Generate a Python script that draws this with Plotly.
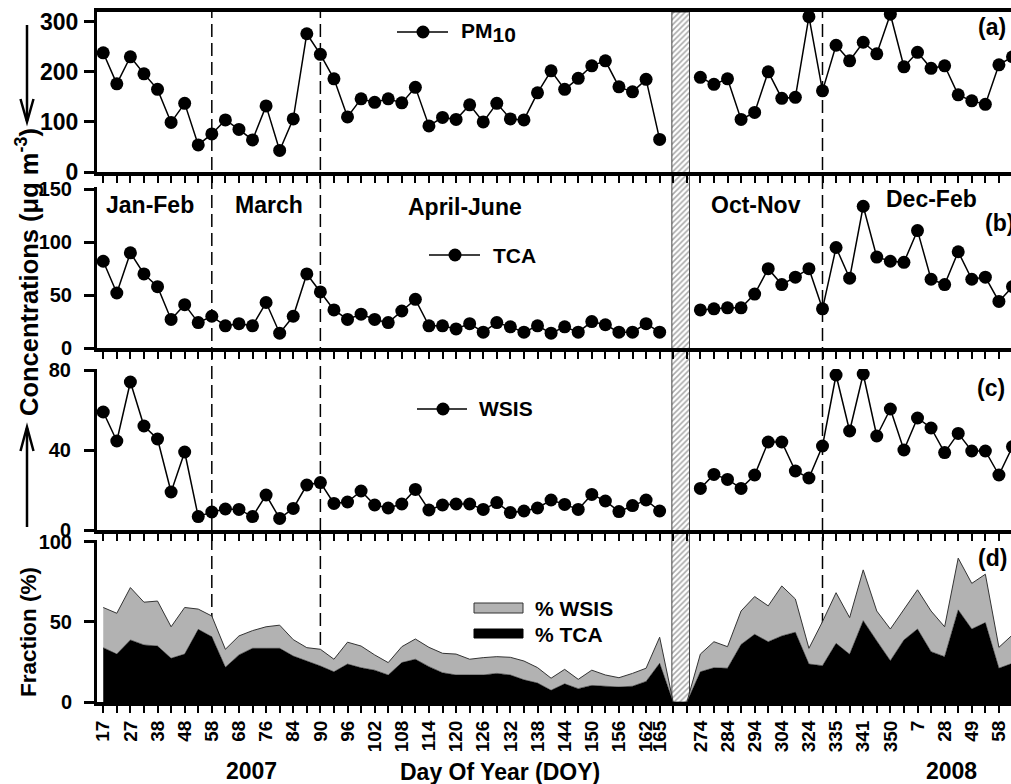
import plotly.graph_objects as go

W, H = 1011, 784

# ---------------- data ----------------
doy_labels = ["17", "", "27", "", "38", "", "48", "", "58", "", "68", "", "76", "", "84", "", "90", "",
              "96", "", "102", "", "108", "", "114", "", "120", "", "126", "", "132", "", "138", "",
              "144", "", "150", "", "156", "", "162", "165", "", "",
              "274", "", "284", "", "294", "", "304", "", "324", "", "335", "", "341", "", "350", "",
              "7", "", "28", "", "49", "", "58", ""]

pm10 = [238, 176, 230, 196, 165, 99, 137, 54, 76, 104, 85, 64, 132, 43, 106, 276, 235, 186,
        110, 146, 139, 146, 138, 169, 92, 109, 105, 134, 100, 137, 106, 104, 158, 202, 165, 187,
        212, 222, 170, 160, 185, 65,
        None, None,
        189, 175, 186, 105, 119, 200, 147, 149, 310, 162, 253, 222, 259, 236, 315, 210, 239, 207,
        212, 154, 142, 135, 214, 230]

tca = [82, 52, 90, 70, 58, 27, 41, 24, 30, 21, 23, 21, 43, 14, 30, 70, 53, 36,
       27, 32, 27, 24, 35, 46, 21, 21, 18, 23, 15, 24, 20, 15, 21, 14, 20, 15, 25, 22, 15, 15, 23, 15,
       None, None,
       36, 37, 38, 38, 51, 75, 60, 67, 75, 37, 95, 66, 134, 86, 82, 81, 111, 65, 60, 91, 65, 67, 44, 58]

wsis = [59, 44.5, 74, 52, 45.5, 19, 39, 6.7, 9, 10.5, 10.3, 6.7, 17.5, 5.8, 10.8, 22.5, 23.7, 13.3,
        14, 19.5, 12.5, 11, 13, 20.3, 10, 12.5, 13, 13, 10.3, 13.7, 8.7, 9.5, 11, 15, 12.8, 10.3,
        17.8, 14.5, 9.2, 12.2, 15, 9.5,
        None, None,
        20.8, 27.8, 25.3, 20.8, 27.5, 44, 44, 29.5, 26, 42, 77.5, 49.5, 78, 47, 60.5, 40, 56, 51,
        38.7, 48.3, 39.5, 39.5, 27.5, 41.7]

frac_tca = [34, 30, 38.8, 35.7, 35, 27.4, 30, 45.4, 40.8, 21.8, 29.5, 33.6, 33.6, 33.6, 28.8, 25.7, 22.6, 19,
            23.8, 21.5, 20, 17, 24.7, 26.8, 22.2, 18.4, 17, 17, 17, 18, 17, 14, 12, 7.5, 11.5, 8.5,
            10.5, 10, 9.5, 10, 13, 24.3,
            0, 0,
            19, 21.5, 21.2, 36, 42.3, 37.7, 41.3, 43.6, 23.8, 22.8, 36.7, 29.9, 50.8, 38.2, 25.9, 38.8,
            45.6, 31.5, 28.4, 57.5, 45.6, 49.6, 21.2, 24.3]

frac_total = [59, 55.4, 71.4, 62.3, 63, 47, 59, 58, 53.7, 33, 41.3, 44.6, 47, 48, 39, 34, 33, 26.8,
              37.4, 35, 29.5, 24.7, 34.6, 39.4, 34.2, 30.5, 30, 26.8, 27.8, 28.4, 28, 25.7, 21.6, 15,
              20.5, 14.3, 20, 17, 15.3, 18, 21.2, 40.5,
              0, 0,
              30, 37.7, 34.6, 56.8, 65.8, 60, 72.4, 64.3, 33.6, 50.2, 68.2, 52.7, 82.4, 56.8, 45.6, 58,
              70, 56.8, 47, 89.7, 74, 79.7, 34.2, 42]

season_breaks = [8, 16, 53]
season_names = ["Jan-Feb", "March", "April-June", "Oct-Nov", "Dec-Feb"]
panel_tags = ["(a)", "(b)", "(c)", "(d)"]

# ---------------- helpers ----------------
FONT = "Liberation Sans, Arial, sans-serif"
idx = list(range(len(pm10)))
gap = [i for i, v in enumerate(pm10) if v is None]


def px(x):
    return x / W


def py(y):
    return 1 - y / H


x_left = px(97)
xr = [-0.46, 66.89]

# data, y-range, y-ticks, bottom px, top px, tick font size, label standoff
panels = [
    (pm10, [0, 319.4], [0, 100, 200, 300], 172, 12, 23, 1),
    (tca, [0, 152.2], [0, 50, 100, 150], 348, 187, 20, 8),
    (wsis, [0, 80.5], [0, 40, 80], 530, 369, 20, 9),
    (None, [0, 101], [0, 50, 100], 702.3, 540, 20, 8),
]

fig = go.Figure()

# hatched gap band (subplot x/y, drawn first so the panels sit on top)
g0, g1 = min(gap) - 0.1, max(gap) + 0.2
fig.add_trace(go.Scatter(
    x=[g0, g1, g1, g0, g0], y=[0, 0, 1, 1, 0], xaxis="x", yaxis="y",
    mode="lines", fill="toself", fillcolor="white",
    fillpattern=dict(shape="/", fgcolor="#555555", bgcolor="white", size=4, solidity=0.4),
    line=dict(color="#444444", width=1), hoverinfo="skip", showlegend=False))

layout = dict(
    width=W, height=H, autosize=False,
    margin=dict(l=0, r=0, t=0, b=0, pad=0),
    paper_bgcolor="white", plot_bgcolor="rgba(0,0,0,0)",
    showlegend=False,
    font=dict(family=FONT, color="black"),
    xaxis=dict(domain=[x_left, 1], range=xr, visible=False, anchor="y", automargin=False),
    yaxis=dict(domain=[py(702.3), py(12)], range=[0, 1], visible=False, anchor="x", automargin=False),
)

for k, (data, yr, yt, bot, top, tfs, stand) in enumerate(panels):
    n = k + 2
    last = (k == 3)
    xa = dict(domain=[x_left, 1], range=xr, anchor=f"y{n}", showline=True, linewidth=3.5,
              linecolor="black", ticks="outside", ticklen=7, tickwidth=1.5, tickcolor="black",
              tickvals=idx, ticktext=doy_labels, showticklabels=last, showgrid=False,
              zeroline=False, mirror=(k == 0), fixedrange=True, automargin=False)
    if last:
        xa.update(tickangle=-90, tickfont=dict(size=19, family=FONT, weight="bold", color="black"))
    layout[f"xaxis{n}"] = xa
    layout[f"yaxis{n}"] = dict(domain=[py(bot), py(top)], range=yr, anchor=f"x{n}", showline=True,
                               linewidth=3, linecolor="black", ticks="outside", ticklen=10,
                               tickwidth=2.5, tickcolor="black", tickvals=yt, showgrid=False,
                               zeroline=False, fixedrange=True, automargin=False,
                               ticklabelstandoff=stand,
                               tickfont=dict(size=tfs, family=FONT, weight="bold", color="black"))
    if data is not None:
        fig.add_trace(go.Scatter(x=idx, y=data, xaxis=f"x{n}", yaxis=f"y{n}", mode="lines+markers",
                                 line=dict(color="black", width=1.5),
                                 marker=dict(color="black", size=13), connectgaps=False,
                                 hoverinfo="skip"))
    else:
        fig.add_trace(go.Scatter(x=idx, y=frac_tca, xaxis=f"x{n}", yaxis=f"y{n}", mode="lines",
                                 fill="tozeroy", fillcolor="black", line=dict(color="black", width=0.5),
                                 hoverinfo="skip"))
        fig.add_trace(go.Scatter(x=idx, y=frac_total, xaxis=f"x{n}", yaxis=f"y{n}", mode="lines",
                                 fill="tonexty", fillcolor="#b2b2b2", line=dict(color="#333333", width=1),
                                 hoverinfo="skip"))

shapes = []
for b in season_breaks:
    shapes.append(dict(type="line", xref="x2", yref="paper", x0=b, x1=b, y0=py(702), y1=py(12),
                       line=dict(color="black", width=1.5, dash="13px,6px"), layer="below"))

# in-panel line legends
for (x0, x1, xc, yc) in [(397, 448, 423, 32), (429, 480, 455, 255), (417, 467, 443, 409)]:
    shapes.append(dict(type="line", xref="paper", yref="paper", x0=px(x0), x1=px(x1), y0=py(yc), y1=py(yc),
                       line=dict(color="black", width=1.5)))
    shapes.append(dict(type="circle", xref="paper", yref="paper", x0=px(xc - 6.5), x1=px(xc + 6.5),
                       y0=py(yc + 6.5), y1=py(yc - 6.5), fillcolor="black", line=dict(color="black", width=0)))
# area legend boxes
shapes.append(dict(type="rect", xref="paper", yref="paper", x0=px(474), x1=px(523), y0=py(613), y1=py(603),
                   fillcolor="#b2b2b2", line=dict(color="#333333", width=1)))
shapes.append(dict(type="rect", xref="paper", yref="paper", x0=px(474), x1=px(523), y0=py(638), y1=py(629),
                   fillcolor="black", line=dict(color="black", width=1)))
# arrows beside the y title
shapes.append(dict(type="line", xref="paper", yref="paper", x0=px(27), x1=px(27), y0=py(25), y1=py(121),
                   line=dict(color="black", width=2.5)))
shapes.append(dict(type="path", xref="paper", yref="paper",
                   path=f"M {px(20.5)},{py(99)} L {px(27)},{py(122)} L {px(33.5)},{py(99)}",
                   line=dict(color="black", width=2.5)))
shapes.append(dict(type="line", xref="paper", yref="paper", x0=px(27), x1=px(27), y0=py(527), y1=py(428),
                   line=dict(color="black", width=2.5)))
shapes.append(dict(type="path", xref="paper", yref="paper",
                   path=f"M {px(20.5)},{py(451)} L {px(27)},{py(427)} L {px(33.5)},{py(451)}",
                   line=dict(color="black", width=2.5)))
layout["shapes"] = shapes


def ann(text, x, y, size, xanchor="center", angle=0):
    return dict(text=text, x=px(x), y=py(y), xref="paper", yref="paper", showarrow=False,
                xanchor=xanchor, yanchor="middle", textangle=angle,
                font=dict(size=size, family=FONT, weight="bold", color="black"))


annotations = []
for name, (xc, yc) in zip(season_names, [(149.7, 205), (268.5, 205), (464.5, 207), (755.5, 205), (931.5, 199)]):
    annotations.append(ann(name, xc, yc, 23))
for tag, (xl, yc) in zip(panel_tags, [(976, 27), (983, 223), (975, 388), (976, 558)]):
    annotations.append(ann(tag, xl, yc, 23, xanchor="left"))
annotations.append(ann("PM<sub><span style='font-size:21px'>10</span></sub>", 459, 33, 21, xanchor="left"))
annotations.append(ann("TCA", 491, 255, 21, xanchor="left"))
annotations.append(ann("WSIS", 477, 409, 21, xanchor="left"))
annotations.append(ann("% WSIS", 533, 608, 21, xanchor="left"))
annotations.append(ann("% TCA", 533, 634, 21, xanchor="left"))
annotations.append(ann("2007", 251, 771, 23))
annotations.append(ann("Day Of Year (DOY)", 500, 772, 23))
annotations.append(ann("2008", 951, 771, 23))
annotations.append(ann("Concentrations (μg m<sup>-3</sup>)", 27, 272, 25.5, angle=-90))
annotations.append(ann("Fraction (%)", 28, 632, 22.5, angle=-90))
layout["annotations"] = annotations

fig.update_layout(**layout)
fig.write_html("out.html", config={"displayModeBar": False},
               post_script="document.body.style.margin='0px';")
